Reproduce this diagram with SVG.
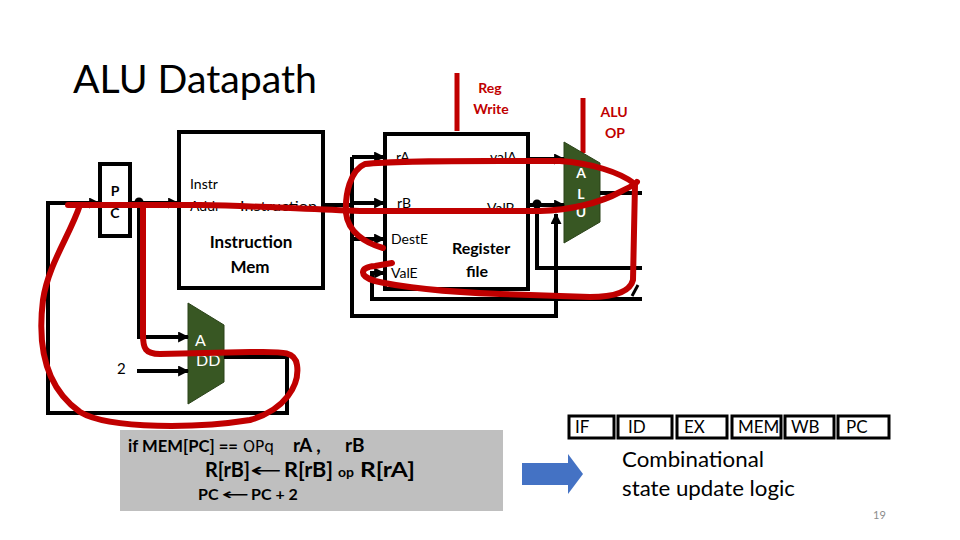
<svg xmlns="http://www.w3.org/2000/svg" width="960" height="540" viewBox="0 0 960 540">
<defs>
<marker id="arr" viewBox="0 0 10 10" refX="9" refY="5" markerWidth="12" markerHeight="11" markerUnits="userSpaceOnUse" orient="auto">
<path d="M0,0 L10,5 L0,10 z" fill="#000"/>
</marker>
</defs>
<style>
.box{fill:#fff;stroke:#000;stroke-width:4}
.wire{fill:none;stroke:#000;stroke-width:4}
.mux{fill:#385723;stroke:#2a4219;stroke-width:1}
.red{fill:none;stroke:#c00000;stroke-width:6;stroke-linecap:round;stroke-linejoin:round}
.ctl{stroke:#c00000;stroke-width:5}
.t{font-family:Lato,"Liberation Sans",sans-serif;fill:#000}
.b{font-weight:bold}
.w{fill:#fff}
.rt{font-family:Lato,"Liberation Sans",sans-serif;font-weight:bold;fill:#c00000;font-size:14px;text-anchor:middle}
.stage{fill:#fff;stroke:#000;stroke-width:3}
</style>
<rect width="960" height="540" fill="#fff"/>

<g id="title"><text class="t" x="73" y="93" font-size="38" textLength="244" lengthAdjust="spacingAndGlyphs">ALU Datapath</text></g>

<g id="reg-write">
<line class="ctl" x1="457" y1="73" x2="457" y2="131"/>
<text class="rt" x="490" y="93">Reg</text>
<text class="rt" x="491" y="114">Write</text>
</g>
<g id="alu-op">
<line class="ctl" x1="583" y1="98" x2="583" y2="153"/>
<text class="rt" x="614" y="117">ALU</text>
<text class="rt" x="615" y="138">OP</text>
</g>

<g id="pc">
<rect class="box" x="100" y="164" width="30" height="72"/>
<text class="t b" x="115" y="196" font-size="14" text-anchor="middle">P</text>
<text class="t b" x="115" y="218" font-size="14" text-anchor="middle">C</text>
</g>

<g id="instr-mem">
<rect class="box" x="179" y="132" width="144" height="156"/>
<text class="t" x="190" y="189" font-size="14">Instr</text>
<text class="t" x="190" y="211" font-size="14">Addr</text>
<text class="t" x="240" y="211" font-size="14" textLength="77" lengthAdjust="spacingAndGlyphs">Instruction</text>
<text class="t b" x="251" y="248" font-size="17" text-anchor="middle">Instruction</text>
<text class="t b" x="250" y="273" font-size="17" text-anchor="middle">Mem</text>
</g>

<g id="reg-file">
<rect class="box" x="385" y="134" width="143" height="155"/>
<text class="t" x="396" y="162" font-size="14">rA</text>
<text class="t" x="490" y="162" font-size="14">valA</text>
<text class="t" x="397" y="208" font-size="14">rB</text>
<text class="t" x="487" y="213" font-size="14">ValB</text>
<text class="t" x="391" y="244" font-size="14">DestE</text>
<text class="t" x="391" y="278" font-size="14">ValE</text>
<text class="t b" x="481" y="254" font-size="16" text-anchor="middle">Register</text>
<text class="t b" x="477" y="277" font-size="16" text-anchor="middle">file</text>
</g>

<g id="alu">
<polygon class="mux" points="564,142 600,163 600,222 564,243"/>
<text class="t b w" x="581" y="178" font-size="14" text-anchor="middle">A</text>
<text class="t b w" x="581" y="199" font-size="14" text-anchor="middle">L</text>
<text class="t b w" x="581" y="217" font-size="14" text-anchor="middle">U</text>
</g>

<g id="add">
<polygon class="mux" points="188,303 224,325 224,382 188,404"/>
<text class="t w" x="195" y="346" font-size="16">A</text>
<text class="t w" x="196" y="366" font-size="16">DD</text>
</g>

<g id="const-2"><text class="t" x="117" y="374" font-size="15">2</text></g>

<g id="connectors">
<path class="wire" d="M224 357 H287 V413 H48 V203 H99" marker-end="url(#arr)"/>
<path class="wire" d="M130 203 H178" marker-end="url(#arr)"/>
<circle cx="139" cy="202" r="4.5" fill="#000"/>
<path class="wire" d="M139 203 V337 H188" marker-end="url(#arr)"/>
<path class="wire" d="M137 371 H188" marker-end="url(#arr)"/>
<path class="wire" d="M323 205 H352"/>
<path class="wire" d="M352 157 V316 H556 V214" marker-end="url(#arr)"/>
<path class="wire" d="M352 157 H384" marker-end="url(#arr)"/>
<path class="wire" d="M352 203 H384" marker-end="url(#arr)"/>
<path class="wire" d="M352 239 H384" marker-end="url(#arr)"/>
<path class="wire" d="M642 299 H372 V273 H384" marker-end="url(#arr)"/>
<path class="wire" d="M528 159 H564" marker-end="url(#arr)"/>
<path class="wire" d="M528 205 H564" marker-end="url(#arr)"/>
<circle cx="537" cy="204" r="4.5" fill="#000"/>
<path class="wire" d="M537 204 V268 H642"/>
<path class="wire" d="M600 193 H642"/>
<line x1="632" y1="296" x2="638" y2="285" stroke="#000" stroke-width="3"/>
</g>

<g id="annotations">
<path class="red" d="M80 205 C70 235 48 265 43 300 C38 340 42 385 80 412 C110 430 200 428 250 420 C285 410 300 385 297 365 C295 350 280 352 250 352 L160 354 C145 354 143 348 143 335 L143 206"/>
<path class="red" d="M68 205 L200 205 C260 206 300 209 360 211 L540 211 C570 210 600 203 620 192 C630 187 636 184 637 182"/>
<path class="red" d="M383 248 C365 243 348 232 346 213 C345 195 350 170 365 164 C400 160 480 161 560 161 C590 163 620 172 635 184 L633 280 C630 292 615 297 590 297 L500 294 C450 292 400 287 375 281 C358 276 360 267 375 266 L392 263"/>
</g>

<g id="rule-box">
<rect x="120" y="430" width="383" height="81" fill="#bfbfbf"/>
<text class="t b" x="128" y="452" font-size="17" textLength="110" lengthAdjust="spacingAndGlyphs">if MEM[PC] ==</text>
<text x="243" y="452" font-size="15" font-family="'DejaVu Sans',sans-serif" textLength="31" lengthAdjust="spacingAndGlyphs">OPq</text>
<text class="t b" x="293" y="452" font-size="19">rA ,</text>
<text class="t b" x="345" y="452" font-size="19">rB</text>
<text class="t b" x="205" y="477" font-size="20" textLength="45" lengthAdjust="spacingAndGlyphs">R[rB]</text>
<text x="250" y="477" font-size="20" font-family="'DejaVu Sans',sans-serif" textLength="32" lengthAdjust="spacingAndGlyphs">←</text>
<text class="t b" x="284" y="477" font-size="20" textLength="49" lengthAdjust="spacingAndGlyphs">R[rB]</text>
<text class="t b" x="338" y="477" font-size="14">op</text>
<text class="t b" x="360" y="477" font-size="20" textLength="55" lengthAdjust="spacingAndGlyphs">R[rA]</text>
<text class="t b" x="198" y="500" font-size="16">PC</text>
<text x="221" y="500" font-size="16" font-family="'DejaVu Sans',sans-serif" textLength="28" lengthAdjust="spacingAndGlyphs">←</text>
<text class="t b" x="251" y="500" font-size="16">PC + 2</text>
</g>

<g id="blue-arrow"><polygon points="522,463 568,463 568,454 583,474 568,494 568,485 522,485" fill="#4472c4"/></g>

<g id="stages">
<rect class="stage" x="569" y="416" width="45" height="22"/>
<rect class="stage" x="618" y="416" width="54" height="22"/>
<rect class="stage" x="677" y="416" width="50" height="22"/>
<rect class="stage" x="732" y="416" width="49" height="22"/>
<rect class="stage" x="785" y="416" width="49" height="22"/>
<rect class="stage" x="838" y="416" width="51" height="22"/>
<text class="t" x="575" y="433" font-size="17">IF</text>
<text class="t" x="628" y="433" font-size="17">ID</text>
<text class="t" x="684" y="433" font-size="17">EX</text>
<text class="t" x="738" y="433" font-size="17">MEM</text>
<text class="t" x="791" y="433" font-size="17">WB</text>
<text class="t" x="846" y="433" font-size="17">PC</text>
</g>

<g id="caption">
<text class="t" x="622" y="467" font-size="21" textLength="142" lengthAdjust="spacingAndGlyphs">Combinational</text>
<text class="t" x="622" y="496" font-size="21" textLength="173" lengthAdjust="spacingAndGlyphs">state update logic</text>
</g>

<g id="page-number"><text class="t" x="873" y="519" font-size="11" style="fill:#8c8c8c">19</text></g>
</svg>
